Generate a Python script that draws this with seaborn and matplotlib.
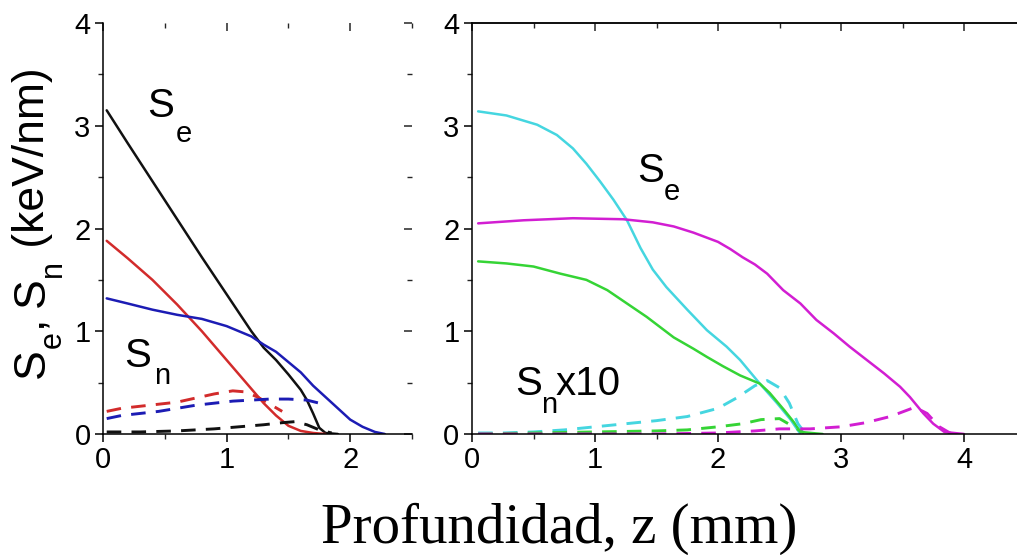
import matplotlib
matplotlib.use("Agg")
import matplotlib.pyplot as plt
import seaborn as sns
import numpy as np
import pandas as pd
from matplotlib.ticker import MultipleLocator

# ---------------- data ----------------
# Left panel (Se solid, Sn dashed)
zL_black = [0.03, 0.2, 0.4, 0.6, 0.8, 1.0, 1.2, 1.3, 1.4, 1.5, 1.6, 1.65, 1.7, 1.75, 1.8, 1.9]
SeL_black = [3.15, 2.83, 2.46, 2.09, 1.72, 1.36, 1.0, 0.84, 0.72, 0.58, 0.43, 0.33, 0.2, 0.06, 0.01, 0.0]
zL_red = [0.03, 0.2, 0.4, 0.6, 0.8, 1.0, 1.2, 1.3, 1.4, 1.5, 1.6, 1.7, 1.8]
SeL_red = [1.88, 1.71, 1.50, 1.26, 1.0, 0.72, 0.44, 0.3, 0.18, 0.08, 0.03, 0.01, 0.0]
zL_blue = [0.03, 0.2, 0.4, 0.6, 0.8, 1.0, 1.2, 1.3, 1.4, 1.5, 1.6, 1.7, 1.8, 1.9, 2.0, 2.1, 2.2, 2.28]
SeL_blue = [1.32, 1.27, 1.21, 1.16, 1.12, 1.05, 0.95, 0.87, 0.8, 0.7, 0.6, 0.47, 0.36, 0.25, 0.14, 0.07, 0.02, 0.0]

zLn_red = [0.03, 0.15, 0.3, 0.45, 0.6, 0.75, 0.9, 1.05, 1.15, 1.25, 1.35, 1.45]
SnL_red = [0.22, 0.25, 0.27, 0.29, 0.31, 0.35, 0.39, 0.42, 0.41, 0.36, 0.29, 0.22]
zLn_blue = [0.03, 0.15, 0.3, 0.45, 0.6, 0.75, 0.9, 1.05, 1.2, 1.35, 1.5, 1.65, 1.75]
SnL_blue = [0.15, 0.18, 0.2, 0.22, 0.25, 0.28, 0.3, 0.32, 0.33, 0.34, 0.34, 0.33, 0.3]
zLn_black = [0.03, 0.3, 0.6, 0.9, 1.1, 1.3, 1.45, 1.55, 1.65, 1.75, 1.85]
SnL_black = [0.02, 0.02, 0.03, 0.05, 0.07, 0.09, 0.11, 0.12, 0.09, 0.04, 0.01]

# Right panel (Se solid, Sn x10 dashed)
zR_cyan = [0.05, 0.28, 0.53, 0.69, 0.82, 0.93, 1.04, 1.15, 1.26, 1.37, 1.47, 1.58, 1.75, 1.91,
           2.07, 2.18, 2.34, 2.48, 2.59, 2.67]
SeR_cyan = [3.14, 3.10, 3.01, 2.91, 2.78, 2.63, 2.46, 2.28, 2.08, 1.81, 1.60, 1.43, 1.21, 1.01,
            0.85, 0.72, 0.49, 0.30, 0.14, 0.0]
zR_mag = [0.05, 0.42, 0.82, 1.23, 1.47, 1.64, 1.8, 2.0, 2.1, 2.2, 2.3, 2.4, 2.53, 2.67, 2.8, 2.94,
          3.07, 3.21, 3.35, 3.48, 3.56, 3.67, 3.75, 3.84, 4.0]
SeR_mag = [2.05, 2.08, 2.10, 2.09, 2.06, 2.02, 1.96, 1.87, 1.80, 1.72, 1.65, 1.56, 1.40, 1.27, 1.11,
           0.98, 0.85, 0.72, 0.59, 0.46, 0.36, 0.2, 0.1, 0.02, 0.0]
zR_green = [0.05, 0.28, 0.5, 0.72, 0.93, 1.1, 1.26, 1.42, 1.64, 1.8, 1.91, 2.04, 2.18, 2.34, 2.42,
            2.54, 2.62, 2.67, 2.85]
SeR_green = [1.68, 1.66, 1.63, 1.56, 1.50, 1.40, 1.27, 1.14, 0.94, 0.83, 0.75, 0.66, 0.57, 0.49,
             0.40, 0.23, 0.11, 0.02, 0.0]

zRn_cyan = [0.05, 0.25, 0.5, 0.75, 1.0, 1.25, 1.5, 1.75, 2.0, 2.15, 2.3, 2.4, 2.5, 2.58, 2.65, 2.7]
SnR_cyan = [0.01, 0.01, 0.02, 0.04, 0.07, 0.10, 0.13, 0.17, 0.25, 0.35, 0.47, 0.52, 0.45, 0.3, 0.1, 0.02]
zRn_green = [0.05, 0.5, 1.0, 1.5, 1.75, 2.0, 2.2, 2.35, 2.5, 2.6, 2.7]
SnR_green = [0.0, 0.01, 0.02, 0.03, 0.04, 0.07, 0.10, 0.14, 0.15, 0.08, 0.01]
zRn_mag = [0.05, 0.5, 1.0, 1.5, 2.0, 2.3, 2.5, 2.75, 3.0, 3.2, 3.4, 3.6, 3.7, 3.8, 3.9]
SnR_mag = [0.0, 0.0, 0.0, 0.0, 0.01, 0.03, 0.05, 0.05, 0.07, 0.11, 0.17, 0.26, 0.2, 0.07, 0.0]

x_ticks_left = [0, 1, 2]
x_ticks_right = [0, 1, 2, 3, 4]
y_ticks = [0, 1, 2, 3, 4]

C_BLACK, C_RED, C_BLUE = "#111111", "#d22b2b", "#1c1cb4"
C_CYAN, C_MAG, C_GREEN = "#45d6e0", "#d21ed2", "#35d435"

# ---------------- style ----------------
sns.set_style("ticks")
plt.rcParams["font.family"] = ["Liberation Sans", "DejaVu Sans"]

W, H = 1017, 555
fig = plt.figure(figsize=(W / 100, H / 100), dpi=100)

def fx(px):
    return px / W

def fy(py):
    return 1 - py / H

axL = fig.add_axes([fx(103), fy(434), fx(412 - 103), (434 - 23) / H])
axR = fig.add_axes([fx(472), fy(434), fx(1017 - 472), (434 - 23) / H])

DASH = (0, (5, 3.5))

def draw(ax, z, v, color, dashed=False):
    if dashed:
        sns.lineplot(x=z, y=v, color=color, linewidth=2.1, linestyle=DASH, ax=ax)
    else:
        sns.lineplot(x=z, y=v, color=color, linewidth=1.8, ax=ax)

draw(axL, zL_black, SeL_black, C_BLACK)
draw(axL, zL_red, SeL_red, C_RED)
draw(axL, zL_blue, SeL_blue, C_BLUE)
draw(axL, zLn_red, SnL_red, C_RED, True)
draw(axL, zLn_blue, SnL_blue, C_BLUE, True)
draw(axL, zLn_black, SnL_black, C_BLACK, True)

draw(axR, zR_cyan, SeR_cyan, C_CYAN)
draw(axR, zR_mag, SeR_mag, C_MAG)
draw(axR, zR_green, SeR_green, C_GREEN)
draw(axR, zRn_cyan, SnR_cyan, C_CYAN, True)
draw(axR, zRn_green, SnR_green, C_GREEN, True)
draw(axR, zRn_mag, SnR_mag, C_MAG, True)

axL.set_xlim(0, 2.5)
axR.set_xlim(0, (1017 - 472) / 123.0)
for ax, xt in ((axL, x_ticks_left), (axR, x_ticks_right)):
    ax.set_ylim(0, 4)
    ax.set_xticks(xt)
    ax.set_yticks(y_ticks)
    ax.xaxis.set_minor_locator(MultipleLocator(0.5))
    ax.yaxis.set_minor_locator(MultipleLocator(0.5))
    ax.tick_params(which="major", direction="out", length=6, width=1.1,
                   labelsize=21, pad=3, colors="black")
    ax.tick_params(which="minor", direction="out", length=3.5, width=1.0)
    ax.set_xlabel("")
    ax.set_ylabel("")
    for s in ("left", "bottom", "top"):
        ax.spines[s].set_linewidth(1.1)
        ax.spines[s].set_color("black")
    ax.spines["right"].set_visible(False)

axL.spines["top"].set_visible(False)

# mirrored inward ticks on top (both) and right (left panel)
for ax, xt, show_spine in ((axL, x_ticks_left, False), (axR, x_ticks_right, True)):
    top = ax.secondary_xaxis("top")
    top.set_xticks(xt)
    top.xaxis.set_minor_locator(MultipleLocator(0.5))
    top.tick_params(which="major", direction="in", length=6, width=1.1, labeltop=False)
    top.tick_params(which="minor", direction="in", length=3.5, width=1.0, labeltop=False)
    top.spines["top"].set_visible(show_spine)
    top.spines["top"].set_linewidth(1.1)

rt = axL.secondary_yaxis("right")
rt.set_yticks(y_ticks)
rt.yaxis.set_minor_locator(MultipleLocator(0.5))
rt.tick_params(which="major", direction="in", length=6, width=1.1, labelright=False)
rt.tick_params(which="minor", direction="in", length=3.5, width=1.0, labelright=False)
rt.spines["right"].set_visible(False)

# ---------------- annotations ----------------
BIG, SUB = 29, 21

def label(x, y, s, size, **kw):
    fig.text(fx(x), fy(y), s, fontsize=size, ha="left", va="baseline", color="black", **kw)

label(147, 117, "S", BIG)
label(176, 142, "e", SUB)
label(124, 367, "S", BIG)
label(154, 384, "n", SUB)
label(637, 182, "S", BIG)
label(664, 200, "e", SUB)
label(515, 395, "S", BIG)
label(541, 413, "n", SUB)
label(556, 395, "x10", BIG)

# y label built from pieces (rotated), laid out sequentially
renderer = fig.canvas.get_renderer()
ypos = [378.0]

def ylab(xb, s, size):
    t = fig.text(fx(xb), fy(ypos[0]), s, fontsize=size, rotation=90, rotation_mode="anchor",
                 ha="left", va="baseline", color="black")
    bb = t.get_window_extent(renderer)
    ypos[0] -= bb.height

YL, YS = 32, 22
ylab(44, "S", YL)
ylab(61, "e", YS)
ylab(44, ", ", YL)
ylab(44, "S", YL)
ylab(61, "n", YS)
ylab(44, " (keV/nm)", YL)

fig.text(fx(559), fy(543), "Profundidad, z (mm)", fontsize=41, ha="center", va="baseline",
         family=["Liberation Serif", "DejaVu Serif"], color="black")

fig.savefig("out.png", dpi=100)
